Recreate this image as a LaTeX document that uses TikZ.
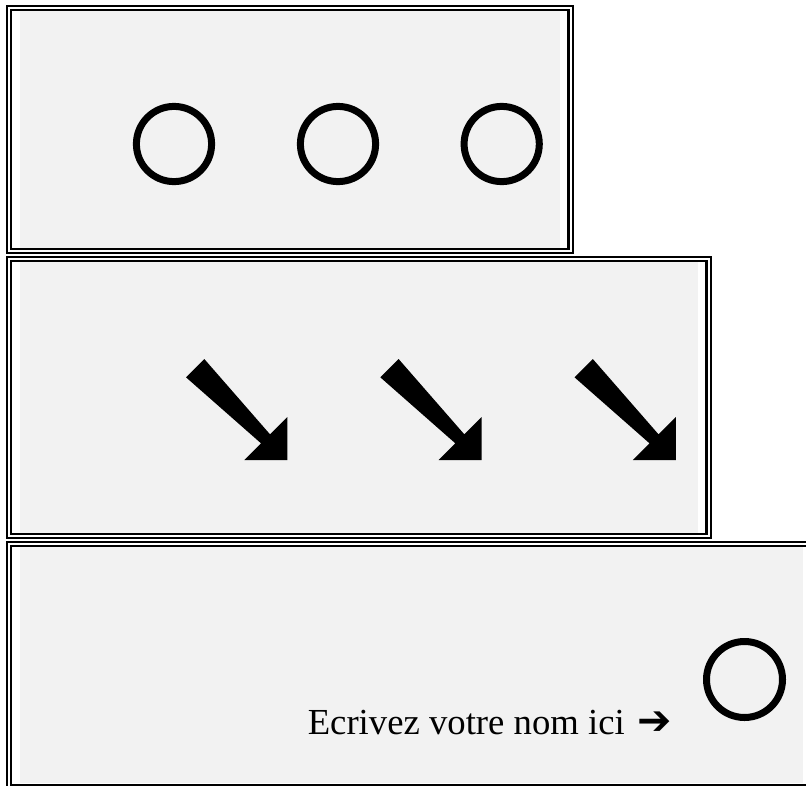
\documentclass[tikz,border=0pt]{standalone}
\usepackage{fontspec}
\setmainfont{Liberation Serif}
\newfontfamily\symfont{DejaVu Sans}
\definecolor{panelgray}{RGB}{242,242,242}
\begin{document}
\begin{tikzpicture}[x=1pt,y=-1pt,
  panelframe/.style={draw=black,line width=2.1pt,double=white,double distance=2pt},
  panelfill/.style={fill=panelgray,draw=none},
  ring/.style={draw=black,line width=7pt,fill=none},
  bigarrow/.style={fill=black,draw=none},
  label/.style={font=\fontsize{36.7}{40}\selectfont,inner sep=0pt,anchor=base west}]
\useasboundingbox (0,0) rectangle (806,785);
\clip (0,0) rectangle (806,785);
% panel 1
\fill[panelfill] (20,11) rectangle (560,248.5);
\draw[panelframe] (9,8) rectangle (570.5,250.8);
% panel 2
\fill[panelfill] (20,261.5) rectangle (698,533);
\draw[panelframe] (9,258.8) rectangle (708.5,535.8);
% panel 3
\fill[panelfill] (20,547) rectangle (803,783);
\draw[panelframe] (9,543.8) rectangle (813,787);
% circles
\coordinate (c1) at (174,144);
\coordinate (c2) at (338,144);
\coordinate (c3) at (501.7,144);
\coordinate (c4) at (744.5,679.5);
\foreach \c in {c1,c2,c3}{\draw[ring] (\c) circle (37.6);}
\draw[ring] (c4) circle (38);
% arrows
\foreach \dx in {0,194.3,388.5}{
  \begin{scope}[xshift=\dx]
  \fill[bigarrow] (204.3,359) -- (270,434.3) -- (287.3,417) -- (287.3,460)
     -- (244.3,460) -- (261,443.3) -- (186,377.3) -- cycle;
  \end{scope}
}
% label
\node[label] (lbl) at (307.6,734) {Ecrivez votre nom ici\kern13pt{\symfont\fontsize{41}{44}\selectfont ➔}};
\end{tikzpicture}
\end{document}
